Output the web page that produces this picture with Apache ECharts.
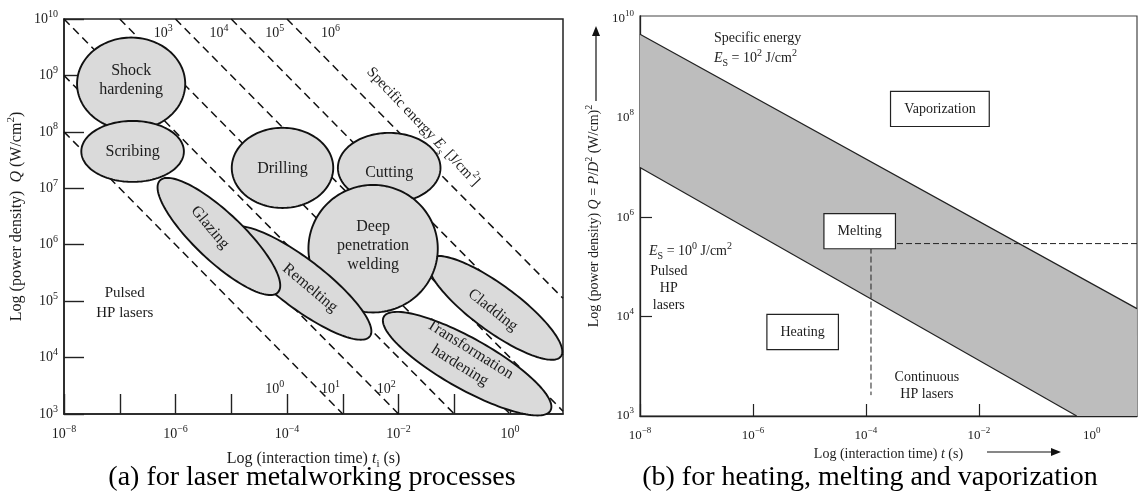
<!DOCTYPE html>
<html>
<head>
<meta charset="utf-8">
<script src="https://cdn.jsdelivr.net/npm/echarts@6/dist/echarts.min.js"></script>
<style>
  html, body { margin: 0; padding: 0; background: #fff; }
  #chart { width: 1138px; height: 498px; }
</style>
</head>
<body>
<div id="chart"></div>
<script>
const SERIF = '"Liberation Serif", "DejaVu Serif", serif';
const INK = '#1c1c1c';
const lg = Math.log10;

// ---------- (a) laser metalworking processes ----------
// Each process region: centre (interaction time in s, power density in W/cm²),
// half-length and half-width in decades, tilt in degrees on the log–log plane.
// Listed in drawing order (later regions overlap earlier ones).
const processNames = ['Cutting', 'Cladding', 'Transformation\nhardening', 'Deep\npenetration\nwelding',
                      'Remelting', 'Glazing', 'Shock\nhardening', 'Scribing', 'Drilling'];
const processTime  = [6.8e-3, 0.54, 0.17, 3.5e-3, 1.71e-4, 6.0e-6, 1.6e-7, 1.7e-7, 8.3e-5];
const processPower = [2.3e7, 7.6e4, 7.8e3, 8.5e5, 2.1e5, 1.4e6, 7.1e8, 4.5e7, 2.3e7];
const processHalfLength = [0.92, 1.46, 1.71, 1.16, 1.57, 1.45, 0.97, 0.92, 0.91];
const processHalfWidth  = [0.62, 0.41, 0.45, 1.13, 0.43, 0.43, 0.82, 0.54, 0.71];
const processTilt       = [0, -36, -29, 0, -37, -43, 0, 0, 0];

// Lines of constant specific energy E_s = Q·t (J/cm²)
const specificEnergies = [1e0, 1e1, 1e2, 1e3, 1e4, 1e5, 1e6];

// Axis tick labels (exponents of ten)
const aTimeTickExp  = [-8, -6, -4, -2, 0];
const aPowerTickExp = [3, 4, 5, 6, 7, 8, 9, 10];

// ---------- (b) heating, melting and vaporization ----------
const upperBoundTime  = [1e-8, 6.3];      // E_s = 10² J/cm² boundary
const upperBoundPower = [4.8e9, 1.45e4];
const lowerBoundTime  = [1e-8, 0.54];     // E_s = 10⁰ J/cm² boundary
const lowerBoundPower = [1e7, 1e2];
const meltingTime = 1.23e-4;              // onset of melting for continuous lasers
const meltingPower = 2.95e5;
const meltingDropPower = 263;

const bTimeTickExp  = [-8, -6, -4, -2, 0];
const bPowerTickVals = [2, 4, 6, 8, 10];
const bPowerTickText = ['3', '4', '6', '8', '10'];

// ---------- layout ----------
const A_X = { min: -8, max: 0.95 }, A_Y = { min: 3, max: 10 };
const B_X = { min: -8, max: 0.8 },  B_Y = { min: 2, max: 10.05 };

// label offset inside each process region [dt, dq] (decades) and text angle
const processLabelLayout = [
  [0, -0.09, 0], [-0.04, -0.04, -38], [-0.04, 0.11, -32], [0, 0.05, 0],
  [0.18, -0.09, -40], [-0.16, 0.16, -50], [0, 0.07, 0], [0, 0, 0], [0, -0.02, 0]
];

function richSet(size, color, lh) {
  const s = Math.round(size * 0.68);
  const line = lh || size + 6;
  return {
    b:  { fontFamily: SERIF, fontSize: size, color: color, lineHeight: line, verticalAlign: 'middle' },
    i:  { fontFamily: SERIF, fontSize: size, color: color, fontStyle: 'italic', lineHeight: line, verticalAlign: 'middle' },
    s:  { fontFamily: SERIF, fontSize: s, color: color, lineHeight: s, verticalAlign: 'top' },
    u:  { fontFamily: SERIF, fontSize: s, color: color, lineHeight: s, verticalAlign: 'bottom' },
    ui: { fontFamily: SERIF, fontSize: s, color: color, fontStyle: 'italic', lineHeight: s, verticalAlign: 'bottom' }
  };
}
function pow10(e) {
  return '{b|10}{s|' + (e < 0 ? '\u2212' + (-e) : e) + '}';
}
function wrapLines(str) {
  return str.split('\n').map(function (l) { return '{b|' + l + '}'; }).join('\n');
}

// ---------- series: panel (a) ----------
const energyLines = specificEnergies.map(function (E) {
  const e = lg(E);
  const t0 = Math.max(A_X.min, e - A_Y.max);
  const t1 = Math.min(A_X.max, e - A_Y.min);
  return {
    type: 'line', xAxisIndex: 0, yAxisIndex: 0, silent: true, symbol: 'none', z: 1,
    data: [[t0, e - t0], [t1, e - t1]],
    lineStyle: { color: '#111', width: 1.5, type: [8, 5] }
  };
});

const processSeries = {
  type: 'custom', coordinateSystem: 'cartesian2d', xAxisIndex: 0, yAxisIndex: 0, z: 3, silent: true,
  data: processNames.map(function (n, i) {
    return [lg(processTime[i]), lg(processPower[i]), processHalfLength[i], processHalfWidth[i], processTilt[i]];
  }),
  renderItem: function (params, api) {
    const i = params.dataIndex;
    const cx = api.value(0), cy = api.value(1), a = api.value(2), b = api.value(3);
    const ang = api.value(4) * Math.PI / 180;
    const ca = Math.cos(ang), sa = Math.sin(ang);
    const pts = [];
    for (let k = 0; k < 144; k++) {
      const th = 2 * Math.PI * k / 144;
      const u = a * Math.cos(th), v = b * Math.sin(th);
      pts.push(api.coord([cx + u * ca - v * sa, cy + u * sa + v * ca]));
    }
    const lay = processLabelLayout[i];
    const c = api.coord([cx + lay[0], cy + lay[1]]);
    return {
      type: 'group',
      children: [
        { type: 'polygon', shape: { points: pts }, style: { fill: '#dadada', stroke: '#111', lineWidth: 1.9 } },
        { type: 'text', x: c[0], y: c[1], rotation: lay[2] * Math.PI / 180,
          style: { text: processNames[i], fontFamily: SERIF, fontSize: 16, fill: INK,
                   align: 'center', verticalAlign: 'middle', lineHeight: 19 } }
      ]
    };
  }
};

// labels for the specific-energy lines: upper ones near the top edge, lower ones near the bottom
const energyLabels = specificEnergies.map(function (E) {
  const e = lg(E);
  if (E >= 1e3) return { t: e - 9.74 + 0.52, q: 9.74, text: pow10(e), size: 14 };
  return { t: e - 3.43 - 0.79, q: 3.43, text: pow10(e), size: 14 };
});

const annotationsA = energyLabels.concat([
  { t: -6.91, q: 4.97, text: wrapLines('Pulsed\nHP lasers'), size: 15, lh: 20 },
  { t: -1.56, q: 8.09, rot: -46.6, size: 15,
    text: '{b|Specific energy }{i|E}{ui|s}{b| [J/cm}{s|2}{b|]}' }
]);

// ---------- series: panel (b) ----------
const bandSeries = {
  type: 'custom', coordinateSystem: 'cartesian2d', xAxisIndex: 1, yAxisIndex: 1, z: 2, silent: true,
  data: [[lg(upperBoundTime[0]), lg(upperBoundPower[0])]],
  renderItem: function (params, api) {
    const pts = [
      api.coord([lg(upperBoundTime[0]), lg(upperBoundPower[0])]),
      api.coord([lg(upperBoundTime[1]), lg(upperBoundPower[1])]),
      api.coord([B_X.max, B_Y.min]),
      api.coord([lg(lowerBoundTime[1]), lg(lowerBoundPower[1])]),
      api.coord([lg(lowerBoundTime[0]), lg(lowerBoundPower[0])])
    ];
    const up = [pts[0], pts[1]], low = [pts[3], pts[4]];
    return {
      type: 'group',
      children: [
        { type: 'polygon', shape: { points: pts }, style: { fill: '#bdbdbd', stroke: null } },
        { type: 'polyline', shape: { points: up }, style: { stroke: '#222', lineWidth: 1.2, fill: null } },
        { type: 'polyline', shape: { points: low }, style: { stroke: '#222', lineWidth: 1.2, fill: null } }
      ]
    };
  }
};

const meltingLine = {
  type: 'line', xAxisIndex: 1, yAxisIndex: 1, silent: true, symbol: 'none', z: 3,
  data: [[B_X.max, lg(meltingPower)], [lg(meltingTime), lg(meltingPower)], [lg(meltingTime), lg(meltingDropPower)]],
  lineStyle: { color: '#222', width: 1, type: [6, 3] }
};

const boxStyle = { backgroundColor: '#fff', borderColor: '#222', borderWidth: 1.2, padding: [7, 13] };
const annotationsB = [
  { t: -6.69, q: 9.39, align: 'left', size: 14,
    text: '{b|Specific energy}\n{i|E}{u|S}{b| = 10}{s|2}{b| J/cm}{s|2}' },
  { t: -7.84, q: 5.32, align: 'left', size: 14,
    text: '{i|E}{u|S}{b| = 10}{s|0}{b| J/cm}{s|2}' },
  { t: -7.49, q: 4.56, size: 14, lh: 17, text: wrapLines('Pulsed\nHP\nlasers') },
  { t: -2.92, q: 2.60, size: 14, lh: 17, text: wrapLines('Continuous\nHP lasers') },
  { t: -2.69, q: 8.18, size: 14, box: true, text: wrapLines('Vaporization') },
  { t: -4.11, q: 5.72, size: 14, box: true, text: wrapLines('Melting') },
  { t: -5.12, q: 3.69, size: 14, box: true, text: wrapLines('Heating') }
];

function textSeries(idx, items, z) {
  return {
    type: 'custom', coordinateSystem: 'cartesian2d', xAxisIndex: idx, yAxisIndex: idx, z: z, silent: true,
    data: items.map(function (a) { return [a.t, a.q]; }),
    renderItem: function (params, api) {
      const a = items[params.dataIndex];
      const p = api.coord([api.value(0), api.value(1)]);
      const style = {
        text: a.text, rich: richSet(a.size, INK, a.lh), fontFamily: SERIF, fontSize: a.size, fill: INK,
        align: a.align || 'center', verticalAlign: 'middle'
      };
      if (a.box) Object.assign(style, boxStyle);
      return { type: 'text', x: p[0], y: p[1], rotation: (a.rot || 0) * Math.PI / 180, style: style };
    }
  };
}

// ---------- axes ----------
function axisCommon(color, width) {
  return {
    type: 'value', splitLine: { show: false },
    axisLine: { show: true, onZero: false, lineStyle: { color: color, width: width } }
  };
}

const option = {
  animation: false,
  backgroundColor: '#fff',
  grid: [
    { left: 64, top: 19, width: 499, height: 395, show: true, borderColor: '#222', borderWidth: 1.5, backgroundColor: 'transparent' },
    { left: 640, top: 16, width: 497, height: 400, show: true, borderColor: '#444', borderWidth: 1.2, backgroundColor: 'transparent' }
  ],
  xAxis: [
    Object.assign(axisCommon('#222', 1.5), {
      gridIndex: 0, min: A_X.min, max: A_X.max, interval: 1,
      axisTick: { inside: true, length: 20, lineStyle: { color: '#222', width: 1.4 } },
      axisLabel: {
        margin: 10, showMaxLabel: false,
        formatter: function (v) { return aTimeTickExp.indexOf(v) >= 0 ? pow10(v) : ''; },
        rich: richSet(14, INK)
      },
      name: '{b|Log (interaction time) }{i|t}{u|i}{b| (s)}', nameLocation: 'middle', nameGap: 34,
      nameTextStyle: { rich: richSet(16, INK) }
    }),
    Object.assign(axisCommon('#222', 1.3), {
      gridIndex: 1, min: B_X.min, max: B_X.max, interval: 2,
      axisTick: { inside: true, length: 12, lineStyle: { color: '#222', width: 1.2 } },
      axisLabel: {
        margin: 10, showMaxLabel: false,
        formatter: function (v) { return bTimeTickExp.indexOf(v) >= 0 ? pow10(v) : ''; },
        rich: richSet(13, INK)
      },
      name: '{b|Log (interaction time) }{i|t}{b| (s)}', nameLocation: 'middle', nameGap: 28,
      nameTextStyle: { rich: richSet(14, INK) }
    })
  ],
  yAxis: [
    Object.assign(axisCommon('#222', 1.5), {
      gridIndex: 0, min: A_Y.min, max: A_Y.max, interval: 1,
      axisTick: { inside: true, length: 20, lineStyle: { color: '#222', width: 1.4 } },
      axisLabel: {
        margin: 6,
        formatter: function (v) { return aPowerTickExp.indexOf(v) >= 0 ? pow10(v) : ''; },
        rich: richSet(14, INK)
      },
      name: '{b|Log (power density)  }{i|Q}{b| (W/cm}{s|2}{b|)}', nameLocation: 'middle', nameRotate: 90, nameGap: 36,
      nameTextStyle: { rich: richSet(16, INK) }
    }),
    Object.assign(axisCommon('#222', 1.3), {
      gridIndex: 1, min: B_Y.min, max: B_Y.max, interval: 2,
      axisTick: { inside: true, length: 12, customValues: [4, 6, 8], lineStyle: { color: '#222', width: 1.2 } },
      axisLabel: {
        margin: 6, showMaxLabel: false,
        formatter: function (v) {
          const k = bPowerTickVals.indexOf(v);
          return k >= 0 ? '{b|10}{s|' + bPowerTickText[k] + '}' : '';
        },
        rich: richSet(13, INK)
      },
      name: '{b|Log (power density) }{i|Q}{b| = }{i|P}{b|/}{i|D}{s|2}{b| (W/cm)}{s|2}',
      nameLocation: 'middle', nameRotate: 90, nameGap: 36,
      nameTextStyle: { rich: richSet(14, INK) }
    })
  ],
  graphic: [
    { type: 'text', x: 312, y: 478, silent: true,
      style: { text: '(a) for laser metalworking processes', fontFamily: SERIF, fontSize: 28, fill: '#000', align: 'center', verticalAlign: 'middle' } },
    { type: 'text', x: 870, y: 478, silent: true,
      style: { text: '(b) for heating, melting and vaporization', fontFamily: SERIF, fontSize: 28, fill: '#000', align: 'center', verticalAlign: 'middle' } },
    { type: 'line', silent: true, shape: { x1: 596, y1: 101, x2: 596, y2: 34 }, style: { stroke: '#111', lineWidth: 1.2 } },
    { type: 'polygon', silent: true, shape: { points: [[596, 26], [592, 36], [600, 36]] }, style: { fill: '#111' } },
    { type: 'line', silent: true, shape: { x1: 987, y1: 452, x2: 1052, y2: 452 }, style: { stroke: '#111', lineWidth: 1.2 } },
    { type: 'polygon', silent: true, shape: { points: [[1061, 452], [1051, 448], [1051, 456]] }, style: { fill: '#111' } }
  ],
  series: energyLines.concat([
    processSeries,
    textSeries(0, annotationsA, 4),
    bandSeries,
    meltingLine,
    textSeries(1, annotationsB, 5)
  ])
};

const chart = echarts.init(document.getElementById('chart'));
chart.setOption(option);
</script>
</body>
</html>
